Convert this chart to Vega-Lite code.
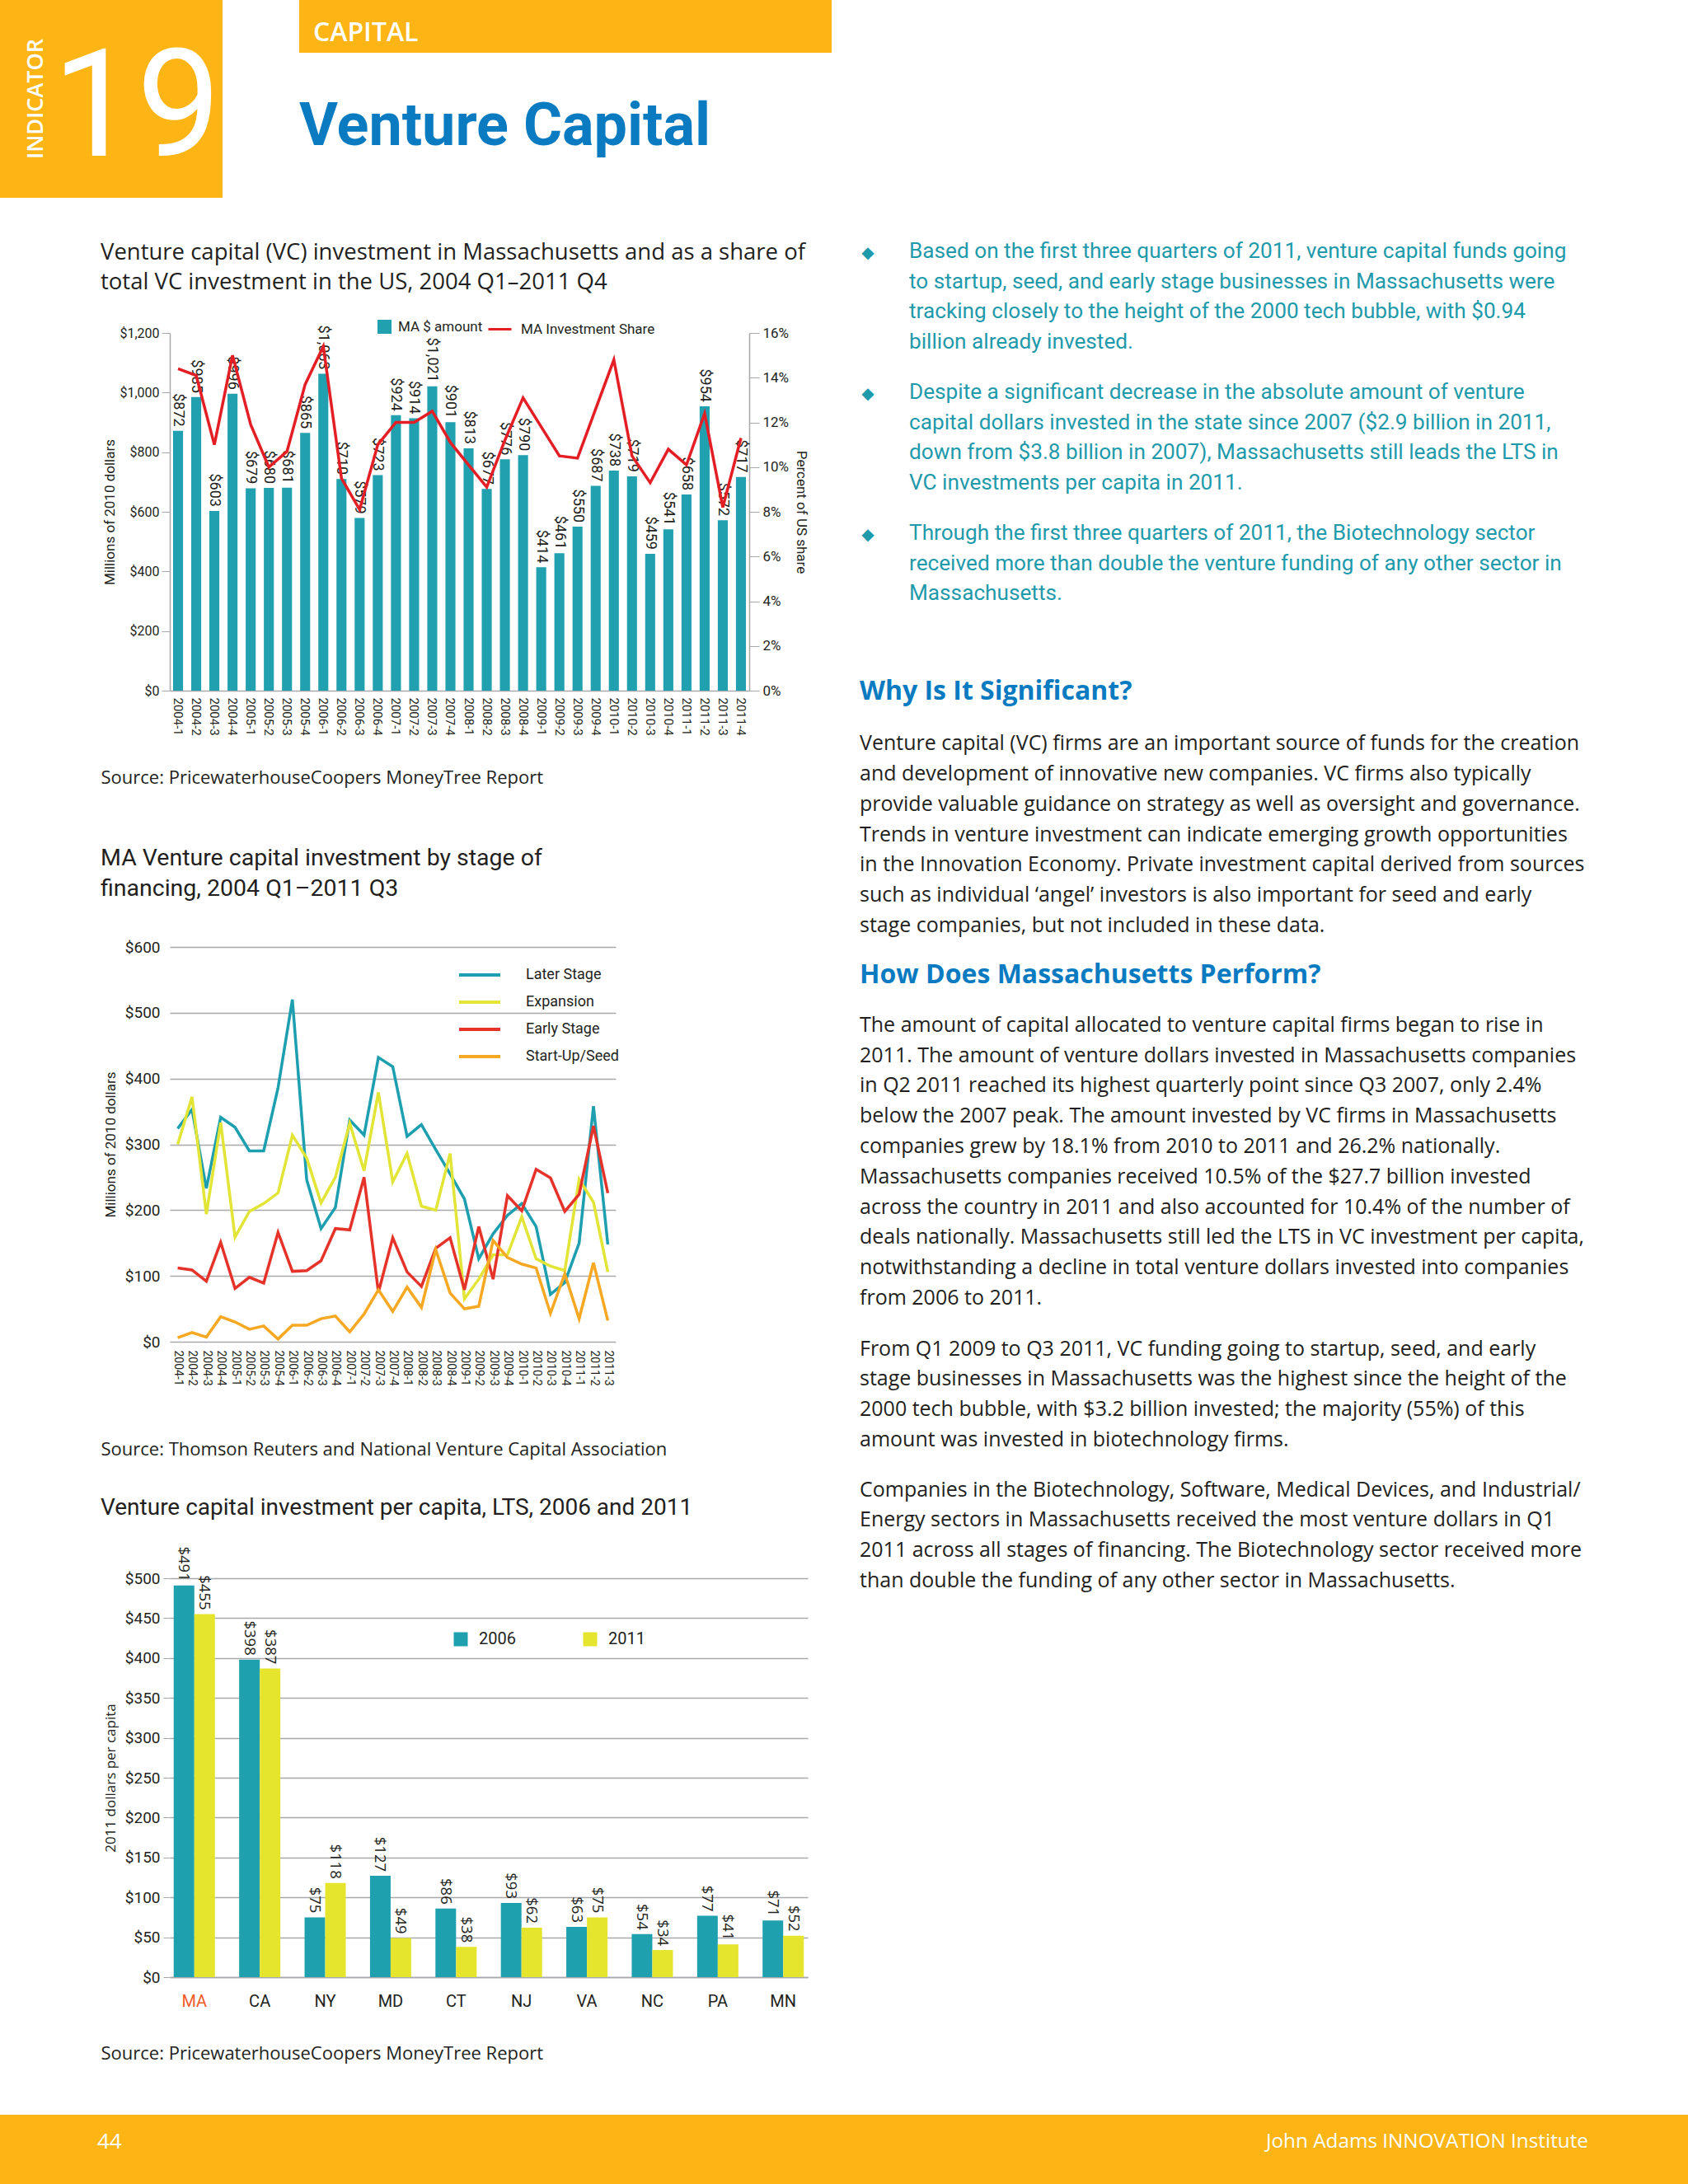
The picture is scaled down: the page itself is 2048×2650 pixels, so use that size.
{
  "$schema": "https://vega.github.io/schema/vega-lite/v6.json",
  "padding": 0,
  "background": "white",
  "config": {
    "view": {"stroke": null},
    "font": "Open Sans, Noto Sans, sans-serif",
    "axis": {"labelColor": "#231F20", "titleColor": "#231F20", "titleFontWeight": "normal"},
    "legend": {"labelColor": "#231F20", "labelLimit": 0},
    "title": {"color": "#231F20", "fontWeight": "normal", "anchor": "start"}
  },
  "resolve": {"scale": {"fill": "independent", "stroke": "independent", "color": "independent"}, "legend": {"fill": "independent", "stroke": "independent", "color": "independent"}},
  "spacing": 64,
  "vconcat": [
    {
      "spacing": 51,
      "resolve": {"scale": {"fill": "independent", "stroke": "independent", "color": "independent"}, "legend": {"fill": "independent", "stroke": "independent", "color": "independent"}},
      "vconcat": [
        {
          "spacing": 93,
          "hconcat": [
            {
              "width": 270, "height": 240,
              "view": {"fill": "#FDB515", "stroke": null},
              "data": {"values": [{"num": "19"}]},
              "mark": {"type": "text", "font": "Roboto, sans-serif", "fontSize": 182, "color": "white", "align": "right", "baseline": "middle", "dx": 133, "dy": 14},
              "encoding": {"text": {"field": "num"}},
              "title": {"text": "INDICATOR", "orient": "left", "anchor": "middle", "offset": -58, "fontSize": 27, "fontWeight": 600, "color": "white", "font": "Open Sans, Noto Sans, sans-serif"}
            },
            {
              "width": 646, "height": 64,
              "view": {"fill": "#FDB515", "stroke": null},
              "data": {"values": [{"sec": "CAPITAL"}]},
              "mark": {"type": "text", "font": "Open Sans, Noto Sans, sans-serif", "fontSize": 32, "fontWeight": 600, "color": "white", "align": "left", "baseline": "middle", "dx": -306, "dy": 8},
              "encoding": {"text": {"field": "sec"}},
              "title": {"text": "Venture Capital", "orient": "bottom", "anchor": "start", "frame": "group", "offset": 55, "fontSize": 72, "fontWeight": "bold", "color": "#0A7BC1", "font": "Roboto, sans-serif"}
            }
          ]
        },
        {
          "spacing": 58,
          "resolve": {"scale": {"fill": "independent", "stroke": "independent", "color": "independent"}, "legend": {"fill": "independent", "stroke": "independent", "color": "independent"}},
          "hconcat": [
            {
              "width": 64, "height": 1,
              "data": {"values": [{}]},
              "mark": {"type": "point", "size": 0, "opacity": 0}
            },
            {
              "spacing": 0,
              "resolve": {"scale": {"fill": "independent", "stroke": "independent", "color": "independent"}, "legend": {"fill": "independent", "stroke": "independent", "color": "independent"}},
              "vconcat": [
                {
                  "width": 1, "height": 1,
                  "data": {"values": [{}]},
                  "mark": {"type": "point", "size": 0, "opacity": 0}
                },
                {
                  "spacing": 47,
                  "resolve": {"scale": {"fill": "independent", "stroke": "independent", "color": "independent"}, "legend": {"fill": "independent", "stroke": "independent", "color": "independent"}},
                  "vconcat": [
                    {
                      "spacing": 72,
                      "resolve": {"scale": {"fill": "independent", "stroke": "independent", "color": "independent"}, "legend": {"fill": "independent", "stroke": "independent", "color": "independent"}},
                      "vconcat": [
                        {
                          "width": 703, "height": 434,
                          "title": {"text": ["Venture capital (VC) investment in Massachusetts and as a share of", "total VC investment in the US, 2004 Q1–2011 Q4"], "font": "Open Sans, Noto Sans, sans-serif", "fontSize": 27.5, "lineHeight": 36, "offset": 28, "anchor": "start", "frame": "bounds"},
                          "data": {"values": [
                            {"q": "2004-1", "amount": 872, "share": 0.144},
                            {"q": "2004-2", "amount": 985, "share": 0.141},
                            {"q": "2004-3", "amount": 603, "share": 0.110},
                            {"q": "2004-4", "amount": 996, "share": 0.150},
                            {"q": "2005-1", "amount": 679, "share": 0.119},
                            {"q": "2005-2", "amount": 680, "share": 0.100},
                            {"q": "2005-3", "amount": 681, "share": 0.107},
                            {"q": "2005-4", "amount": 865, "share": 0.137},
                            {"q": "2006-1", "amount": 1063, "share": 0.154},
                            {"q": "2006-2", "amount": 710, "share": 0.095},
                            {"q": "2006-3", "amount": 579, "share": 0.081},
                            {"q": "2006-4", "amount": 723, "share": 0.110},
                            {"q": "2007-1", "amount": 924, "share": 0.120},
                            {"q": "2007-2", "amount": 914, "share": 0.120},
                            {"q": "2007-3", "amount": 1021, "share": 0.125},
                            {"q": "2007-4", "amount": 901, "share": 0.111},
                            {"q": "2008-1", "amount": 813, "share": 0.101},
                            {"q": "2008-2", "amount": 677, "share": 0.091},
                            {"q": "2008-3", "amount": 776, "share": 0.112},
                            {"q": "2008-4", "amount": 790, "share": 0.131},
                            {"q": "2009-1", "amount": 414, "share": 0.118},
                            {"q": "2009-2", "amount": 461, "share": 0.105},
                            {"q": "2009-3", "amount": 550, "share": 0.104},
                            {"q": "2009-4", "amount": 687, "share": 0.126},
                            {"q": "2010-1", "amount": 738, "share": 0.148},
                            {"q": "2010-2", "amount": 719, "share": 0.105},
                            {"q": "2010-3", "amount": 459, "share": 0.093},
                            {"q": "2010-4", "amount": 541, "share": 0.108},
                            {"q": "2011-1", "amount": 658, "share": 0.101},
                            {"q": "2011-2", "amount": 954, "share": 0.124},
                            {"q": "2011-3", "amount": 572, "share": 0.082},
                            {"q": "2011-4", "amount": 717, "share": 0.113}
                          ]},
                          "encoding": {
                            "x": {"field": "q", "type": "ordinal", "scale": {"paddingInner": 0.45, "paddingOuter": 0.18},
                              "axis": {"labelAngle": 90, "ticks": false, "domainColor": "#A7A9AC", "domainWidth": 1.5, "labelFont": "Roboto, sans-serif", "labelFontSize": 15, "labelPadding": 8,
                                "title": "Source: PricewaterhouseCoopers MoneyTree Report", "titleFont": "Open Sans, Noto Sans, sans-serif", "titleFontSize": 22, "titleAnchor": "start", "titleAlign": "left", "titleBaseline": "alphabetic", "titleX": -84, "titleY": 112}}
                          },
                          "layer": [
                            {
                              "encoding": {
                                "y": {"field": "amount", "type": "quantitative", "scale": {"domain": [0, 1200]},
                                  "axis": {"orient": "left", "values": [0, 200, 400, 600, 800, 1000, 1200], "format": "$,.0f", "title": "Millions of 2010 dollars", "titleFont": "Roboto, sans-serif", "titleFontSize": 17, "labelFont": "Roboto, sans-serif", "labelFontSize": 16, "tickSize": 10, "tickColor": "#A7A9AC", "domainColor": "#A7A9AC", "domainWidth": 1.5, "grid": false, "labelPadding": 3, "titlePadding": 2}}
                              },
                              "layer": [
                                {
                                  "mark": {"type": "bar"},
                                  "encoding": {
                                    "fill": {"datum": "MA $ amount", "type": "nominal", "scale": {"range": ["#21A1B0"]},
                                      "legend": {"orient": "none", "legendX": 252, "legendY": -16, "title": null, "symbolType": "square", "symbolSize": 289, "symbolStrokeWidth": 0, "labelFont": "Roboto, sans-serif", "labelFontSize": 17, "labelOffset": 8, "labelLimit": 0}}
                                  }
                                },
                                {
                                  "mark": {"type": "text", "angle": 90, "align": "right", "baseline": "middle", "dx": -5, "font": "Roboto, sans-serif", "fontSize": 18, "color": "#231F20"},
                                  "encoding": {"text": {"field": "amount", "type": "quantitative", "format": "$,.0f"}}
                                }
                              ]
                            },
                            {
                              "mark": {"type": "line", "strokeWidth": 3.5},
                              "encoding": {
                                "y": {"field": "share", "type": "quantitative", "scale": {"domain": [0, 0.16]},
                                  "axis": {"orient": "right", "values": [0, 0.02, 0.04, 0.06, 0.08, 0.1, 0.12, 0.14, 0.16], "format": ".0%", "title": "Percent of US share", "titleFont": "Roboto, sans-serif", "titleFontSize": 17, "labelFont": "Roboto, sans-serif", "labelFontSize": 17, "tickSize": 12, "tickColor": "#A7A9AC", "domainColor": "#A7A9AC", "domainWidth": 1.5, "grid": false, "labelPadding": 4, "titlePadding": 6}},
                                "stroke": {"datum": "MA Investment Share", "type": "nominal", "scale": {"range": ["#E31E24"]},
                                  "legend": {"orient": "none", "legendX": 385, "legendY": -20, "title": null, "symbolType": "stroke", "symbolSize": 784, "symbolStrokeWidth": 3, "labelFont": "Roboto, sans-serif", "labelFontSize": 17, "labelOffset": 10, "labelLimit": 0}}
                              }
                            }
                          ],
                          "resolve": {"scale": {"y": "independent"}}
                        },
                        {
                          "width": 541, "height": 479,
                          "title": {"text": ["MA Venture capital investment by stage of", "financing, 2004 Q1–2011 Q3"], "font": "Roboto, sans-serif", "fontSize": 28.5, "lineHeight": 37, "offset": 48, "anchor": "start", "frame": "bounds"},
                          "data": {"values": [
                            {"q": "2004-1", "Later Stage": 324, "Expansion": 300, "Early Stage": 112, "Start-Up/Seed": 6},
                            {"q": "2004-2", "Later Stage": 353, "Expansion": 372, "Early Stage": 109, "Start-Up/Seed": 14},
                            {"q": "2004-3", "Later Stage": 233, "Expansion": 194, "Early Stage": 92, "Start-Up/Seed": 7},
                            {"q": "2004-4", "Later Stage": 341, "Expansion": 333, "Early Stage": 151, "Start-Up/Seed": 38},
                            {"q": "2005-1", "Later Stage": 326, "Expansion": 159, "Early Stage": 81, "Start-Up/Seed": 30},
                            {"q": "2005-2", "Later Stage": 290, "Expansion": 198, "Early Stage": 98, "Start-Up/Seed": 19},
                            {"q": "2005-3", "Later Stage": 290, "Expansion": 210, "Early Stage": 89, "Start-Up/Seed": 24},
                            {"q": "2005-4", "Later Stage": 386, "Expansion": 226, "Early Stage": 166, "Start-Up/Seed": 4},
                            {"q": "2006-1", "Later Stage": 520, "Expansion": 314, "Early Stage": 107, "Start-Up/Seed": 25},
                            {"q": "2006-2", "Later Stage": 246, "Expansion": 279, "Early Stage": 108, "Start-Up/Seed": 25},
                            {"q": "2006-3", "Later Stage": 172, "Expansion": 211, "Early Stage": 123, "Start-Up/Seed": 35},
                            {"q": "2006-4", "Later Stage": 204, "Expansion": 250, "Early Stage": 172, "Start-Up/Seed": 39},
                            {"q": "2007-1", "Later Stage": 337, "Expansion": 332, "Early Stage": 170, "Start-Up/Seed": 15},
                            {"q": "2007-2", "Later Stage": 314, "Expansion": 260, "Early Stage": 250, "Start-Up/Seed": 42},
                            {"q": "2007-3", "Later Stage": 432, "Expansion": 379, "Early Stage": 75, "Start-Up/Seed": 79},
                            {"q": "2007-4", "Later Stage": 418, "Expansion": 243, "Early Stage": 158, "Start-Up/Seed": 46},
                            {"q": "2008-1", "Later Stage": 312, "Expansion": 286, "Early Stage": 106, "Start-Up/Seed": 83},
                            {"q": "2008-2", "Later Stage": 330, "Expansion": 206, "Early Stage": 84, "Start-Up/Seed": 52},
                            {"q": "2008-3", "Later Stage": 292, "Expansion": 200, "Early Stage": 142, "Start-Up/Seed": 140},
                            {"q": "2008-4", "Later Stage": 255, "Expansion": 286, "Early Stage": 158, "Start-Up/Seed": 74},
                            {"q": "2009-1", "Later Stage": 217, "Expansion": 65, "Early Stage": 79, "Start-Up/Seed": 50},
                            {"q": "2009-2", "Later Stage": 126, "Expansion": 95, "Early Stage": 175, "Start-Up/Seed": 54},
                            {"q": "2009-3", "Later Stage": 164, "Expansion": 132, "Early Stage": 95, "Start-Up/Seed": 154},
                            {"q": "2009-4", "Later Stage": 192, "Expansion": 132, "Early Stage": 222, "Start-Up/Seed": 128},
                            {"q": "2010-1", "Later Stage": 210, "Expansion": 190, "Early Stage": 199, "Start-Up/Seed": 118},
                            {"q": "2010-2", "Later Stage": 175, "Expansion": 126, "Early Stage": 262, "Start-Up/Seed": 112},
                            {"q": "2010-3", "Later Stage": 72, "Expansion": 115, "Early Stage": 249, "Start-Up/Seed": 43},
                            {"q": "2010-4", "Later Stage": 90, "Expansion": 108, "Early Stage": 198, "Start-Up/Seed": 103},
                            {"q": "2011-1", "Later Stage": 150, "Expansion": 247, "Early Stage": 224, "Start-Up/Seed": 35},
                            {"q": "2011-2", "Later Stage": 358, "Expansion": 212, "Early Stage": 328, "Start-Up/Seed": 120},
                            {"q": "2011-3", "Later Stage": 148, "Expansion": 106, "Early Stage": 226, "Start-Up/Seed": 32}
                          ]},
                          "transform": [{"fold": ["Later Stage", "Expansion", "Early Stage", "Start-Up/Seed"], "as": ["stage", "value"]}],
                          "mark": {"type": "line", "strokeWidth": 3.5},
                          "encoding": {
                            "x": {"field": "q", "type": "ordinal", "scale": {"type": "point", "padding": 0.55},
                              "axis": {"labelAngle": 90, "ticks": false, "domain": false, "labelFont": "Roboto, sans-serif", "labelFontSize": 14, "labelPadding": 10,
                                "title": "Source: Thomson Reuters and National Venture Capital Association", "titleFont": "Open Sans, Noto Sans, sans-serif", "titleFontSize": 22, "titleAnchor": "start", "titleAlign": "left", "titleBaseline": "alphabetic", "titleX": -84, "titleY": 137}},
                            "y": {"field": "value", "type": "quantitative", "scale": {"domain": [0, 600]},
                              "axis": {"values": [0, 100, 200, 300, 400, 500, 600], "format": "$,.0f", "grid": true, "gridColor": "#A7A9AC", "gridWidth": 1.5, "domain": false, "ticks": false, "labelFont": "Roboto, sans-serif", "labelFontSize": 19, "labelPadding": 12, "title": "Millions of 2010 dollars", "titleFont": "Roboto, sans-serif", "titleFontSize": 17, "titlePadding": 8}},
                            "stroke": {"field": "stage", "type": "nominal", "sort": ["Later Stage", "Expansion", "Early Stage", "Start-Up/Seed"],
                              "scale": {"domain": ["Later Stage", "Expansion", "Early Stage", "Start-Up/Seed"], "range": ["#1D9FAF", "#E2E536", "#E5332A", "#F7A823"]},
                              "legend": {"orient": "none", "legendX": 364, "legendY": 22, "title": null, "symbolType": "M-2.5,0H2.5", "symbolSize": 400, "symbolStrokeWidth": 4, "labelOffset": 44, "rowPadding": 12, "labelFont": "Roboto, sans-serif", "labelFontSize": 18}}
                          }
                        }
                      ]
                    },
                    {
                      "width": 774, "height": 484,
                      "title": {"text": "Venture capital investment per capita, LTS, 2006 and 2011", "font": "Roboto, sans-serif", "fontSize": 28, "offset": 32, "anchor": "start", "frame": "bounds"},
                      "data": {"values": [
                        {"state": "MA", "2006": 491, "2011": 455},
                        {"state": "CA", "2006": 398, "2011": 387},
                        {"state": "NY", "2006": 75, "2011": 118},
                        {"state": "MD", "2006": 127, "2011": 49},
                        {"state": "CT", "2006": 86, "2011": 38},
                        {"state": "NJ", "2006": 93, "2011": 62},
                        {"state": "VA", "2006": 63, "2011": 75},
                        {"state": "NC", "2006": 54, "2011": 34},
                        {"state": "PA", "2006": 77, "2011": 41},
                        {"state": "MN", "2006": 71, "2011": 52}
                      ]},
                      "transform": [{"fold": ["2006", "2011"], "as": ["year", "value"]}],
                      "encoding": {
                        "x": {"field": "state", "type": "nominal", "sort": ["MA", "CA", "NY", "MD", "CT", "NJ", "VA", "NC", "PA", "MN"], "scale": {"paddingInner": 0.37, "paddingOuter": 0.06},
                          "axis": {"labelAngle": 0, "ticks": false, "domainColor": "#A7A9AC", "domainWidth": 1.5, "labelFont": "Roboto, sans-serif", "labelFontSize": 20, "labelPadding": 19,
                            "labelColor": {"condition": {"test": "datum.value === 'MA'", "value": "#F15A29"}, "value": "#231F20"},
                            "title": "Source: PricewaterhouseCoopers MoneyTree Report", "titleFont": "Open Sans, Noto Sans, sans-serif", "titleFontSize": 22, "titleAnchor": "start", "titleAlign": "left", "titleBaseline": "alphabetic", "titleX": -84, "titleY": 99}},
                        "xOffset": {"field": "year", "type": "nominal", "sort": ["2006", "2011"]},
                        "y": {"field": "value", "type": "quantitative", "scale": {"domain": [0, 500]},
                          "axis": {"values": [0, 50, 100, 150, 200, 250, 300, 350, 400, 450, 500], "format": "$,.0f", "grid": true, "gridColor": "#A7A9AC", "gridWidth": 1.5, "domain": false, "ticks": true, "tickSize": 8, "tickColor": "#A7A9AC", "labelFont": "Roboto, sans-serif", "labelFontSize": 19, "labelPadding": 4, "title": "2011 dollars per capita", "titleFont": "Open Sans, Noto Sans, sans-serif", "titleFontSize": 17, "titlePadding": 8}}
                      },
                      "layer": [
                        {
                          "mark": {"type": "bar"},
                          "encoding": {
                            "fill": {"field": "year", "type": "nominal", "scale": {"domain": ["2006", "2011"], "range": ["#1FA0AF", "#E5E52E"]},
                              "legend": {"orient": "none", "direction": "horizontal", "legendX": 343, "legendY": 64, "title": null, "symbolType": "square", "symbolSize": 289, "symbolStrokeWidth": 0, "labelFont": "Roboto, sans-serif", "labelFontSize": 20, "labelOffset": 12, "columnPadding": 80}}
                          }
                        },
                        {
                          "mark": {"type": "text", "angle": 90, "align": "right", "baseline": "middle", "dx": -5, "font": "Open Sans, Noto Sans, sans-serif", "fontSize": 18.5, "color": "#231F20"},
                          "encoding": {"text": {"field": "value", "type": "quantitative", "format": "$,.0f"}}
                        }
                      ]
                    }
                  ]
                }
              ]
            },
            {
              "spacing": 0,
              "vconcat": [
                {
                  "width": 1, "height": 1,
                  "data": {"values": [{}]},
                  "mark": {"type": "point", "size": 0, "opacity": 0}
                },
                {
                  "spacing": 18,
                  "vconcat": [
                    {
                      "width": 880, "height": 513,
                      "data": {"values": [
                        {"b": 1, "text": "Based on the first three quarters of 2011, venture capital funds going\nto startup, seed, and early stage businesses in Massachusetts were\ntracking closely to the height of the 2000 tech bubble, with $0.94\nbillion already invested."},
                        {"b": 2, "text": "Despite a significant decrease in the absolute amount of venture\ncapital dollars invested in the state since 2007 ($2.9 billion in 2011,\ndown from $3.8 billion in 2007), Massachusetts still leads the LTS in\nVC investments per capita in 2011."},
                        {"b": 3, "text": "Through the first three quarters of 2011, the Biotechnology sector\nreceived more than double the venture funding of any other sector in\nMassachusetts."}
                      ]},
                      "encoding": {"y": {"field": "b", "type": "ordinal", "bandPosition": 0, "axis": null, "scale": {"type": "band", "paddingInner": 0, "paddingOuter": 0}}},
                      "layer": [
                        {"mark": {"type": "text", "text": "◆", "font": "DejaVu Sans", "fontSize": 20, "color": "#1E9AAB", "align": "center", "baseline": "middle", "dx": -426, "dy": 15}},
                        {"mark": {"type": "text", "font": "Roboto, sans-serif", "fontSize": 26.2, "lineHeight": 36.5, "lineBreak": "\n", "color": "#1E9AAB", "align": "left", "baseline": "top", "dx": -376},
                         "encoding": {"text": {"field": "text"}}}
                      ]
                    },
                    {
                      "width": 880, "height": 11,
                      "data": {"values": [{}]},
                      "mark": {"type": "point", "size": 0, "opacity": 0},
                      "title": {"text": "Why Is It Significant?", "anchor": "start", "frame": "group", "offset": 0, "dx": 4, "font": "Open Sans, Noto Sans, sans-serif", "fontSize": 32, "fontWeight": "bold", "color": "#0A7BC1",
                        "subtitle": [
                          "Venture capital (VC) firms are an important source of funds for the creation",
                          "and development of innovative new companies. VC firms also typically",
                          "provide valuable guidance on strategy as well as oversight and governance.",
                          "Trends in venture investment can indicate emerging growth opportunities",
                          "in the Innovation Economy. Private investment capital derived from sources",
                          "such as individual ‘angel’ investors is also important for seed and early",
                          "stage companies, but not included in these data."
                        ],
                        "subtitleFont": "Open Sans, Noto Sans, sans-serif", "subtitleFontSize": 25, "subtitleColor": "#231F20", "subtitleLineHeight": 36.8, "subtitlePadding": 34}
                    },
                    {
                      "width": 880, "height": 17,
                      "data": {"values": [{}]},
                      "mark": {"type": "point", "size": 0, "opacity": 0},
                      "title": {"text": "How Does Massachusetts Perform?", "anchor": "start", "frame": "group", "offset": 0, "dx": 4, "font": "Open Sans, Noto Sans, sans-serif", "fontSize": 32, "fontWeight": "bold", "color": "#0A7BC1",
                        "subtitle": [
                          "The amount of capital allocated to venture capital firms began to rise in",
                          "2011. The amount of venture dollars invested in Massachusetts companies",
                          "in Q2 2011 reached its highest quarterly point since Q3 2007, only 2.4%",
                          "below the 2007 peak. The amount invested by VC firms in Massachusetts",
                          "companies grew by 18.1% from 2010 to 2011 and 26.2% nationally.",
                          "Massachusetts companies received 10.5% of the $27.7 billion invested",
                          "across the country in 2011 and also accounted for 10.4% of the number of",
                          "deals nationally. Massachusetts still led the LTS in VC investment per capita,",
                          "notwithstanding a decline in total venture dollars invested into companies",
                          "from 2006 to 2011."
                        ],
                        "subtitleFont": "Open Sans, Noto Sans, sans-serif", "subtitleFontSize": 25, "subtitleColor": "#231F20", "subtitleLineHeight": 36.8, "subtitlePadding": 32}
                    },
                    {
                      "width": 880, "height": 17,
                      "data": {"values": [{}]},
                      "mark": {"type": "point", "size": 0, "opacity": 0},
                      "title": {"text": [
                          "From Q1 2009 to Q3 2011, VC funding going to startup, seed, and early",
                          "stage businesses in Massachusetts was the highest since the height of the",
                          "2000 tech bubble, with $3.2 billion invested; the majority (55%) of this",
                          "amount was invested in biotechnology firms."
                        ], "anchor": "start", "frame": "group", "offset": 0, "dx": 4, "font": "Open Sans, Noto Sans, sans-serif", "fontSize": 25, "lineHeight": 36.8, "color": "#231F20"}
                    },
                    {
                      "width": 880, "height": 12,
                      "data": {"values": [{}]},
                      "mark": {"type": "point", "size": 0, "opacity": 0},
                      "title": {"text": [
                          "Companies in the Biotechnology, Software, Medical Devices, and Industrial/",
                          "Energy sectors in Massachusetts received the most venture dollars in Q1",
                          "2011 across all stages of financing. The Biotechnology sector received more",
                          "than double the funding of any other sector in Massachusetts."
                        ], "anchor": "start", "frame": "group", "offset": 0, "dx": 4, "font": "Open Sans, Noto Sans, sans-serif", "fontSize": 25, "lineHeight": 36.8, "color": "#231F20"}
                    }
                  ]
                }
              ]
            }
          ]
        }
      ]
    },
    {
      "width": 2048, "height": 85,
      "view": {"fill": "#FDB515", "stroke": null},
      "data": {"values": [{"page": "44", "org": "John Adams INNOVATION Institute"}]},
      "layer": [
        {"mark": {"type": "text", "align": "left", "baseline": "middle", "dx": -906, "dy": -10, "fontSize": 26, "color": "white", "font": "Open Sans, Noto Sans, sans-serif"}, "encoding": {"text": {"field": "page"}}},
        {"mark": {"type": "text", "align": "right", "baseline": "middle", "dx": 903, "dy": -10, "fontSize": 24.3, "color": "white", "font": "Open Sans, Noto Sans, sans-serif"}, "encoding": {"text": {"field": "org"}}}
      ]
    }
  ]
}
